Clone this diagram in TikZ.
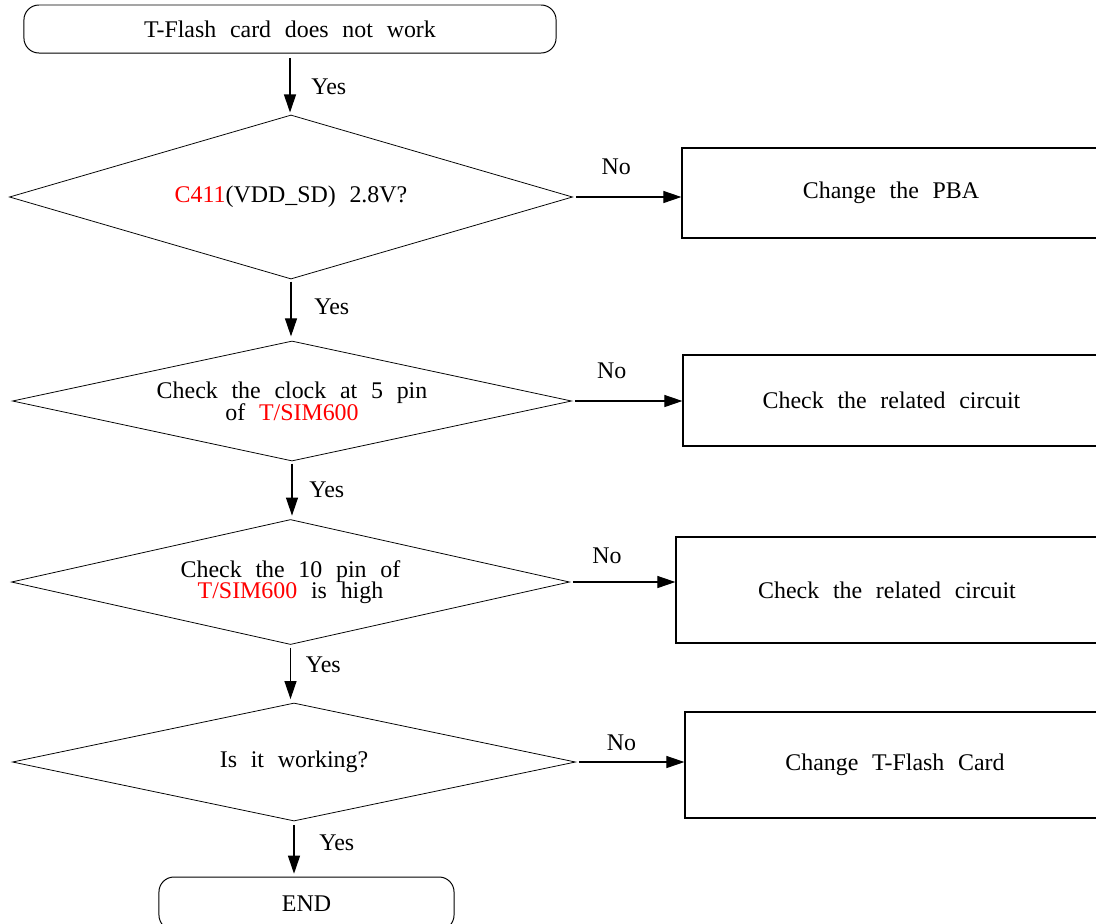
\documentclass[tikz,border=0pt]{standalone}
\usepackage{fontspec}
\setmainfont{Liberation Serif}[WordSpace=2.3]
\usetikzlibrary{shapes.geometric,arrows.meta,positioning}
\newcommand{\chartfont}{\fontsize{17}{14}\selectfont\lineskiplimit=0pt\lineskip=0pt\relax}

\begin{document}
\begin{tikzpicture}[x=0.025cm, y=-0.025cm,
  every node/.style={font=\chartfont},
  term/.style={draw, line width=0.7pt, rounded corners=0.375cm, align=center},
  check/.style={draw, diamond, aspect=4.5, inner sep=0pt, line width=0.55pt, align=center},
  action/.style={draw, line width=0.8pt, align=center},
  arr/.style={-{Triangle[length=0.45cm, width=0.3cm]}, line width=0.8pt},
  lbl/.style={inner sep=2pt}]
  \useasboundingbox (0,0) rectangle (1096,923);
  % left column
  \node[term, minimum width=13.3cm, minimum height=1.2cm] (start) at (290,29) {T-Flash card does not work};
  \node[check, minimum width=14.075cm, minimum height=4.1cm] (volt) at (291,197) {\textcolor{red}{C411}(VDD\_SD) 2.8V?};
  \node[check, minimum width=13.975cm, minimum height=3cm] (clock) at (292,401) {Check the clock at 5 pin\\of \textcolor{red}{T/SIM600}};
  \node[check, minimum width=13.95cm, minimum height=3.125cm] (high) at (290.5,582) {Check the 10 pin of\\\textcolor{red}{T/SIM600} is high};
  \node[check, minimum width=14.075cm, minimum height=2.95cm] (work) at (294,762) {Is it working?};
  \node[term, minimum width=7.375cm, minimum height=1.325cm] (stop) at (306.5,903.5) {END};
  % right column
  \node[action, minimum width=10.45cm, minimum height=2.25cm] (pba) at (891,193) {Change the PBA};
  \node[action, minimum width=10.425cm, minimum height=2.275cm] (circA) at (891.5,400.5) {Check the related circuit};
  \node[action, minimum width=10.55cm, minimum height=2.65cm] (circB) at (887,590) {Check the related circuit};
  \node[action, minimum width=10.5cm, minimum height=2.65cm] (card) at (895,765) {Change T-Flash Card};
  % yes
  \draw[arr, shorten <=3.5pt, shorten >=1.5pt] (start.south) -- (start.south |- volt.north) node[lbl, right=0.45cm, pos=0.55] {Yes};
  \draw[arr, shorten <=1.5pt, shorten >=3pt] (volt.south) -- (volt.south |- clock.north) node[lbl, right=0.5cm, pos=0.45] {Yes};
  \draw[arr, shorten <=1.5pt, shorten >=2.5pt] (clock.south) -- (clock.south |- high.north) node[lbl, right=0.35cm, pos=0.5] {Yes};
  \draw[arr, shorten <=2pt, shorten >=2.5pt] (high.south) -- (high.south |- work.north) node[lbl, right=0.3cm, pos=0.35] {Yes};
  \draw[arr, shorten <=2.5pt, shorten >=2pt] (work.south) -- (work.south |- stop.north) node[lbl, right=0.55cm, pos=0.38] {Yes};
  % no
  \draw[arr, shorten <=2pt] (volt.east) -- (volt.east -| pba.west) node[lbl, above=0.48cm, pos=0.4] {No};
  \draw[arr, shorten <=2pt] (clock.east) -- (clock.east -| circA.west) node[lbl, above=0.48cm, pos=0.36] {No};
  \draw[arr, shorten <=2pt] (high.east) -- (high.east -| circB.west) node[lbl, above=0.38cm, pos=0.35] {No};
  \draw[arr, shorten <=2pt] (work.east) -- (work.east -| card.west) node[lbl, above=0.2cm, pos=0.42] {No};
\end{tikzpicture}
\end{document}
